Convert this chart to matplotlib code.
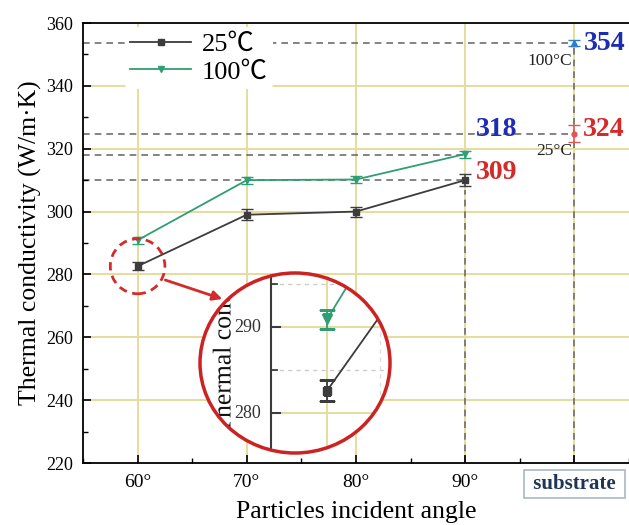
import matplotlib
matplotlib.use("Agg")
import matplotlib.pyplot as plt
from matplotlib.patches import Ellipse, PathPatch
from matplotlib.lines import Line2D
from matplotlib.ticker import MultipleLocator
from matplotlib.textpath import TextPath
from matplotlib.font_manager import FontProperties
from matplotlib.transforms import Affine2D, ScaledTranslation

plt.rcParams['font.family'] = ['Liberation Serif', 'Noto Sans CJK SC']

# data
angles = [60, 70, 80, 90]
k_25 = [282.6, 299.0, 300.0, 310.0]
k_25_err = [1.2, 1.8, 1.6, 1.8]
k_100 = [290.9, 310.0, 310.2, 318.3]
k_100_err = [1.1, 1.1, 1.1, 1.1]
substrate_x = 100
sub_25, sub_25_err = 324.8, 2.8
sub_100, sub_100_err = 353.6, 1.0
ref_levels_long = [353.6, 324.8]
ref_levels_short = [318.0, 310.0]
xtick_vals = [60, 70, 80, 90, 100]
xtick_labels = ['60°', '70°', '80°', '90°', ' substrate ']
ylabel = 'Thermal conductivity (W/m·K)'

black = '#3c3c3c'
green = '#2f9e72'
red = '#d42a2a'
blue = '#1c2db4'
grid_yellow = '#e6dc9c'
dash_gray = '#6e6e6e'
dash = (0, (4, 3))

fig = plt.figure(figsize=(6.29, 5.25), dpi=100)
ax = fig.add_axes([83 / 629, 62 / 525, 546 / 629, 440 / 525])
ax.set_xlim(55, 105)
ax.set_ylim(220, 360)

# grid
for x in xtick_vals:
    ax.axvline(x, color=grid_yellow, lw=1.4, zorder=0)
for y in range(240, 360, 20):
    ax.axhline(y, color=grid_yellow, lw=1.4, zorder=0)

# reference dashed lines
for y in ref_levels_long:
    ax.plot([55, substrate_x], [y, y], ls=dash, color=dash_gray, lw=1.2, zorder=1)
for y in ref_levels_short:
    ax.plot([55, angles[-1]], [y, y], ls=dash, color=dash_gray, lw=1.2, zorder=1)
ax.plot([angles[-1], angles[-1]], [220, k_25[-1] - 3], ls=dash, color=dash_gray, lw=1.2, zorder=1)
ax.plot([substrate_x, substrate_x], [220, sub_100], ls=dash, color=dash_gray, lw=1.2, zorder=1)

ax.errorbar(angles, k_25, yerr=k_25_err, color=black, marker='s', ms=4.5, lw=1.3,
            capsize=4, elinewidth=1.1, zorder=3)
ax.errorbar(angles, k_100, yerr=k_100_err, color=green, marker='v', ms=5, lw=1.3,
            capsize=4, elinewidth=1.1, zorder=3)
ax.errorbar([substrate_x], [sub_25], yerr=[sub_25_err], color='#e05555', marker='o', ms=3.5,
            capsize=4, elinewidth=1.1, zorder=3)
ax.errorbar([substrate_x], [sub_100], yerr=[sub_100_err], color='#2f7fc4', marker='^', ms=4.5,
            capsize=4, elinewidth=1.1, zorder=3)

# value labels
ax.text(100.85, sub_100, '354', color=blue, fontsize=20, fontweight='bold', va='center', ha='left')
ax.text(100.75, 326.0, '324', color=red, fontsize=20, fontweight='bold', va='center', ha='left')
ax.text(90.95, 326.0, '318', color=blue, fontsize=20, fontweight='bold', va='center', ha='left')
ax.text(90.95, 312.3, '309', color=red, fontsize=20, fontweight='bold', va='center', ha='left')
ax.text(99.8, 347.9, '100°C', color='#222222', fontsize=12.5, va='center', ha='right')
ax.text(99.8, 319.4, '25°C', color='#222222', fontsize=12.5, va='center', ha='right')

# axes styling
ax.spines['right'].set_visible(False)
for s in ['left', 'bottom', 'top']:
    ax.spines[s].set_linewidth(1.3)
ax.set_xticks(xtick_vals)
ax.set_xticklabels(xtick_labels)
ax.xaxis.set_minor_locator(MultipleLocator(5))
ax.yaxis.set_major_locator(MultipleLocator(20))
ax.yaxis.set_minor_locator(MultipleLocator(10))
ax.tick_params(direction='in', which='both', top=False, right=False)
ax.tick_params(axis='y', which='major', length=6, width=1.2, labelsize=13, pad=7)
ax.tick_params(axis='x', which='major', length=6, width=1.2, labelsize=14, pad=8)
ax.tick_params(which='minor', length=3.5, width=1.0)
sub_lbl = ax.get_xticklabels()[-1]
sub_lbl.set_fontweight('bold')
sub_lbl.set_fontsize(15)
sub_lbl.set_color('#1f3556')
sub_lbl.set_bbox(dict(boxstyle='square,pad=0.2', facecolor='white', edgecolor='#a8b8c8', lw=1.2))

ax.set_ylabel(ylabel, fontsize=18.5, labelpad=3)
ax.set_xlabel('Particles incident angle', fontsize=18.5, labelpad=5)

handles = [Line2D([], [], color=black, marker='s', ms=4.5, lw=1.3),
           Line2D([], [], color=green, marker='v', ms=5, lw=1.3)]
leg = ax.legend(handles, ['25℃', '100℃'], loc='upper left', bbox_to_anchor=(0.077, 0.99),
                fontsize=19, frameon=True, facecolor='white', edgecolor='none', framealpha=1,
                handlelength=2.3, handletextpad=0.4, labelspacing=0.15, borderpad=0.2,
                borderaxespad=0)
leg.set_zorder(5)

# dashed highlight circle and arrow
ax.add_patch(Ellipse((60, 282.6), width=5.0, height=17.5, fill=False, edgecolor=red,
                     ls=(0, (3, 2)), lw=2, zorder=4))
ax.annotate('', xy=(68.0, 271.9), xytext=(62.3, 278.5),
            arrowprops=dict(arrowstyle='-|>', color=red, lw=2, mutation_scale=14), zorder=4)

# magnified inset
axi = fig.add_axes([200 / 629, 72 / 525, 190 / 629, 180 / 525])
axi.set_xlim(47.3, 66.3)
axi.set_ylim(275.35, 296.3)
axi.axis('off')
clip = Ellipse((0.5, 0.5), 1, 1, transform=axi.transAxes, facecolor='white', edgecolor='none', zorder=0)
axi.add_patch(clip)

arts = []
for y in [280, 290]:
    arts += axi.plot([54.4, 66.3], [y, y], color=grid_yellow, lw=1.4, zorder=1)
for y in [285, 295]:
    arts += axi.plot([54.4, 66.3], [y, y], color='#cccccc', lw=1.0, ls=(0, (3, 3)), zorder=1)
arts += axi.plot([60, 60], [275.35, 296.3], color=grid_yellow, lw=1.4, zorder=1)
arts += axi.plot([65.3, 65.3], [275.35, 296.3], color='#dddddd', lw=1.0, ls=(0, (3, 3)), zorder=1)
arts += axi.plot([54.4, 54.4], [275.35, 296.3], color=black, lw=1.5, zorder=2)
for y in [280, 290]:
    arts += axi.plot([54.4, 55.3], [y, y], color=black, lw=1.5, zorder=2)
    axi.text(52.1, y, str(y), fontsize=13, ha='center', va='center', color='#333333')
for y in [285, 295]:
    arts += axi.plot([54.4, 55.0], [y, y], color=black, lw=1.3, zorder=2)

# inset y label as a path so the circle can clip it
px = 18.5 * 100 / 72
tp = TextPath((0, 0), ylabel, size=px, prop=FontProperties(family='Liberation Serif'))
tr = Affine2D().translate(0, -0.33 * px).rotate_deg(90) + ScaledTranslation(49.5, 277.6, axi.transData)
lab = PathPatch(tp, transform=tr, facecolor='#111111', edgecolor='none', zorder=2)
axi.add_patch(lab)
arts.append(lab)

e1 = axi.errorbar(angles, k_25, yerr=k_25_err, color=black, marker='s', ms=6, lw=1.3,
                  capsize=6, elinewidth=1.3, zorder=3)
e2 = axi.errorbar(angles, k_100, yerr=k_100_err, color=green, marker='v', ms=7, lw=1.3,
                  capsize=6, elinewidth=1.3, zorder=3)
for cont in (e1, e2):
    arts.append(cont.lines[0])
    arts += list(cont.lines[1])
    arts += list(cont.lines[2])
for a in arts:
    a.set_clip_path(clip)
    a.set_clip_on(True)

axi.add_patch(Ellipse((0.5, 0.5), 1, 1, transform=axi.transAxes, fill=False,
                      edgecolor='#cc2222', lw=2.5, zorder=10, clip_on=False))

fig.savefig('out.png', dpi=100)
